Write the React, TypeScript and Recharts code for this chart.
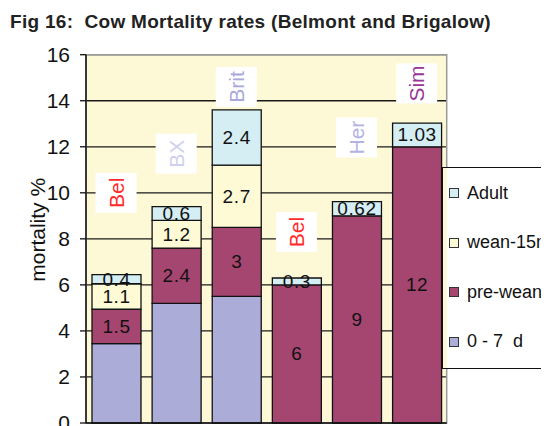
import React from 'react';
import { BarChart, Bar, XAxis, YAxis, CartesianGrid, LabelList, ReferenceDot, ReferenceArea, ReferenceLine, Legend } from 'recharts';

const categories = ['Bel-1', 'BX', 'Brit', 'Bel-2', 'Her', 'Sim'];
const days0to7 = [3.45, 5.2, 5.5, null, null, null];
const preWean = [1.5, 2.4, 3, 6, 9, 12];
const wean15m = [1.1, 1.2, 2.7, null, null, null];
const adult = [0.4, 0.6, 2.4, 0.3, 0.62, 1.03];

const breedLabels = ['Bel', 'BX', 'Brit', 'Bel', 'Her', 'Sim'];
const breedLabelY = [10.0, 11.7, 14.6, 8.3, 12.4, 14.75];
const breedLabelColors = ['#ff2a2a', '#cfcff0', '#a9a9dc', '#ff2a2a', '#b3b3e3', '#9a3596'];

const yTicks = [0, 2, 4, 6, 8, 10, 12, 14, 16];

const seriesKeys = ['d07', 'pre', 'wean', 'adult'];
const seriesNames = ['0 - 7  d', 'pre-wean', 'wean-15m', 'Adult'];
const seriesColors = ['#abacd7', '#a54671', '#fffad6', '#d4eef3'];

const data = categories.map((c, i) => ({
  cat: c,
  d07: days0to7[i],
  pre: preWean[i],
  wean: wean15m[i],
  adult: adult[i],
}));

const FONT = '"Liberation Sans", Arial, Helvetica, sans-serif';

const renderValue = (props: any) => {
  const { x, y, width, height, value } = props;
  if (value === null || value === undefined || value === 0) return null;
  return (
    <text
      x={x + width / 2}
      y={y + height / 2}
      textAnchor="middle"
      dominantBaseline="central"
      fontFamily={FONT}
      fontSize={19}
      letterSpacing={0.6}
      fill="#111"
    >
      {String(value)}
    </text>
  );
};

const makeBreedShape = (label: string, color: string) => (props: any) => {
  const { cx, cy } = props;
  const w = 41;
  const h = 40;
  return (
    <g>
      <rect x={cx - w / 2} y={cy - h / 2} width={w} height={h} fill="#ffffff" />
      <text
        x={cx}
        y={cy}
        transform={`rotate(-90 ${cx} ${cy})`}
        textAnchor="middle"
        dominantBaseline="central"
        fontFamily={FONT}
        fontSize={21}
        fill={color}
      >
        {label}
      </text>
    </g>
  );
};

const LegendBox = () => {
  const items = [3, 2, 1, 0];
  return (
    <div
      style={{
        width: 130,
        height: 202,
        background: '#ffffff',
        borderTop: '1.5px solid #111',
        borderBottom: '1.5px solid #111',
        borderLeft: '2.5px solid #111',
        boxShadow: 'inset 4px 0 0 #fdf9d6',
        boxSizing: 'border-box',
        fontFamily: FONT,
        fontSize: 18,
        color: '#111',
        position: 'relative',
        textAlign: 'left',
      }}
    >
      {items.map((k, idx) => (
        <div
          key={k}
          style={{
            position: 'absolute',
            left: 6,
            top: 25 + idx * 49.5 - 11,
            height: 22,
            display: 'flex',
            alignItems: 'center',
            whiteSpace: 'pre',
          }}
        >
          <span
            style={{
              display: 'inline-block',
              width: 10,
              height: 10,
              background: seriesColors[k],
              border: '1.5px solid #333',
              boxSizing: 'border-box',
              marginRight: 8,
            }}
          />
          <span>{seriesNames[k]}</span>
        </div>
      ))}
    </div>
  );
};

export default function App() {
  return (
    <div style={{ position: 'relative', width: 541, height: 418, overflow: 'hidden', background: '#fff' }}>
      <div
        style={{
          position: 'absolute',
          left: 2,
          top: 3,
          fontFamily: FONT,
          fontWeight: 700,
          fontSize: 19,
          letterSpacing: 0.3,
          color: '#222',
          whiteSpace: 'pre',
          zIndex: 2,
        }}
      >
        {'Fig 16:  Cow Mortality rates (Belmont and Brigalow)'}
      </div>
      <BarChart
        width={541}
        height={418}
        data={data}
        margin={{ top: 46.7, right: 102.3, bottom: 3, left: 0 }}
        barSize={49}
      >
        <CartesianGrid
          vertical={false}
          stroke="#1a1a1a"
          strokeWidth={1.3}
          fill="#fdf9d6"
          fillOpacity={1}
        />
        <ReferenceArea y1={0} y2={16} fill="none" stroke="#9a9a9a" strokeWidth={1.5} ifOverflow="visible" />
        <XAxis dataKey="cat" hide />
        <YAxis
          width={78}
          domain={[0, 16]}
          ticks={yTicks}
          interval={0}
          tickSize={6}
          tickMargin={10}
          axisLine={{ stroke: '#111', strokeWidth: 1.5 }}
          tickLine={{ stroke: '#111', strokeWidth: 1.3 }}
          tick={{ fontFamily: FONT, fontSize: 21, fill: '#111' }}
          label={(p: any) => {
            const vb = p.viewBox || { x: 0, y: 46.7, width: 78, height: 368.3 };
            const cx = vb.x + 30;
            const cy = vb.y + vb.height / 2 - 9;
            return (
              <text
                x={cx}
                y={cy}
                transform={`rotate(-90 ${cx} ${cy})`}
                textAnchor="middle"
                dominantBaseline="central"
                fontFamily={FONT}
                fontSize={21}
                fill="#111"
              >
                mortality %
              </text>
            );
          }}
        />
        {seriesKeys.map((k, i) => (
          <Bar
            key={k}
            dataKey={k}
            name={seriesNames[i]}
            stackId="s"
            fill={seriesColors[i]}
            stroke="#111"
            strokeWidth={1.3}
            isAnimationActive={false}
          >
            {k !== 'd07' && <LabelList dataKey={k} content={renderValue} />}
          </Bar>
        ))}
        <ReferenceLine y={0} stroke="#111" strokeWidth={1.5} />
        {categories.map((c, i) => (
          <ReferenceDot
            key={c}
            x={c}
            y={breedLabelY[i]}
            r={1}
            ifOverflow="visible"
            shape={makeBreedShape(breedLabels[i], breedLabelColors[i])}
          />
        ))}
        <Legend
          layout="horizontal"
          verticalAlign="middle"
          align="center"
          wrapperStyle={{ left: 433, top: 159, width: 130, height: 202 }}
          content={() => <LegendBox />}
        />
      </BarChart>
    </div>
  );
}
